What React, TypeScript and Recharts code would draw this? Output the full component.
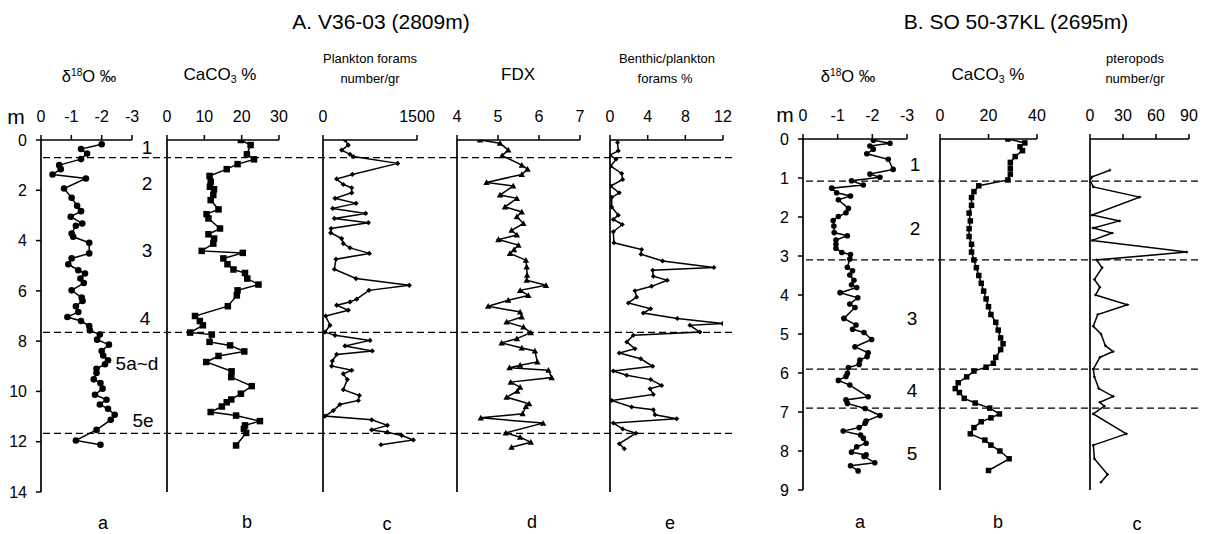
import React from 'react';
import { ScatterChart, Scatter, XAxis, YAxis } from 'recharts';

// ---------- Core A: V36-03 ----------
const aO18Depth = [0.17,0.36,0.54,0.76,1.0,1.16,1.37,1.53,1.93,2.30,2.62,2.83,3.05,3.32,3.41,3.72,3.85,4.09,4.51,4.71,4.94,5.18,5.31,5.51,5.69,5.98,6.27,6.40,6.61,6.84,7.04,7.2,7.4,7.57,7.74,7.94,8.14,8.39,8.57,8.76,8.92,9.1,9.27,9.52,9.67,9.89,10.13,10.33,10.52,10.69,10.93,11.13,11.53,11.95,12.12];
const aO18Value = [-2.0,-1.32,-1.52,-1.32,-0.60,-0.65,-0.38,-1.48,-0.76,-1.01,-1.19,-1.32,-0.98,-1.36,-1.15,-1.01,-1.06,-1.59,-1.59,-1.01,-0.90,-1.23,-1.45,-1.30,-1.41,-1.01,-1.34,-1.37,-1.15,-1.23,-0.87,-1.32,-1.59,-1.61,-1.94,-1.85,-2.24,-2.0,-2.05,-2.21,-2.11,-1.83,-1.83,-1.74,-1.96,-2.03,-1.78,-2.16,-1.94,-2.21,-2.43,-2.30,-1.83,-1.15,-1.96];

const aCaDepth = [0.0,0.2,0.57,0.77,0.96,1.16,1.43,1.66,1.86,1.96,2.19,2.39,2.76,2.95,3.12,3.52,3.75,3.92,4.12,4.41,4.49,4.71,4.94,5.15,5.29,5.51,5.75,5.98,6.18,6.61,7.0,7.2,7.37,7.66,7.74,8.03,8.17,8.41,8.59,8.83,9.2,9.43,9.79,10.09,10.32,10.43,10.6,10.82,10.96,11.18,11.35,11.49,11.65,12.15];
const aCaValue = [19.8,22.4,21.4,23.3,18.9,16.0,11.4,11.7,11.5,12.6,12.4,11.7,13.8,10.6,11.1,14.2,11.1,12.6,12.4,9.3,20.3,15.1,16.2,17.8,20.9,21.5,24.5,18.9,18.7,16.3,7.5,8.8,9.6,6.2,12.0,11.4,16.9,20.7,13.8,10.5,17.3,17.2,22.7,19.8,17.2,16.0,14.7,11.7,18.5,24.9,20.9,20.6,21.2,18.5];

const aPlDepth = [0,0.2,0.4,0.57,0.66,0.93,1.37,1.55,1.77,1.9,2.1,2.32,2.52,2.72,2.92,3.12,3.29,3.52,3.69,3.92,4.12,4.29,4.51,4.74,5.14,5.51,5.78,5.98,6.33,6.44,6.57,6.77,7.0,7.37,7.64,7.77,7.97,8.19,8.39,8.53,8.79,8.99,9.16,9.3,9.53,9.93,10.16,10.36,10.52,10.76,10.98,11.13,11.35,11.53,11.62,11.75,11.93,12.12];
const aPlValue = [351,404,298,431,484,1192,468,218,324,458,458,192,527,154,681,181,724,128,122,298,324,431,739,207,181,527,1377,734,537,431,218,404,43,112,32,192,750,351,787,218,149,138,458,324,388,324,580,564,271,165,32,777,1027,777,1027,1256,1441,926];

const aFdxDepth = [0,0.13,0.4,0.62,1.0,1.16,1.37,1.69,1.83,2.19,2.32,2.66,2.86,3.05,3.32,3.59,3.78,3.96,4.18,4.36,4.51,4.78,5.05,5.38,5.58,5.78,5.98,6.18,6.37,6.61,6.84,7.04,7.24,7.44,7.66,7.9,8.07,8.27,8.39,8.83,8.96,9.06,9.16,9.45,9.63,9.83,9.99,10.23,10.49,10.6,10.89,11.05,11.26,11.65,11.82,12.02,12.22];
const aFdxValue = [4.56,5.05,5.25,5.10,5.58,5.72,5.58,4.72,5.37,5.05,5.46,5.17,5.58,5.46,5.62,5.33,5.46,5.01,5.50,5.39,5.29,5.68,5.70,5.71,5.70,6.17,5.54,5.74,5.25,4.76,5.54,5.58,5.21,5.62,5.80,5.46,5.09,5.58,5.90,5.96,5.54,5.28,6.23,6.31,5.31,5.54,5.47,5.21,5.76,5.68,5.60,4.58,6.10,5.19,5.54,5.80,5.33];

const aBenDepth = [0.1,0.43,0.6,0.77,1.04,1.33,1.57,1.83,2.1,2.28,2.66,2.99,3.16,3.36,3.65,4.09,4.36,4.54,4.81,5.07,5.18,5.42,5.58,5.82,6.0,6.24,6.48,6.71,6.88,7.1,7.3,7.37,7.64,7.77,8.03,8.3,8.47,8.7,9.0,9.19,9.36,9.53,9.76,9.89,10.12,10.36,10.62,10.73,10.93,11.09,11.26,11.49,11.66,12.08,12.28];
const aBenValue = [0.8,0.88,0,0.64,0.07,1.24,1.34,0.07,0.99,0.18,0.18,0.88,0.35,1.31,0.35,0.42,3.36,3.29,5.59,11.04,4.53,4.60,6.08,4.42,2.65,2.83,1.95,4.32,3.54,7.15,11.96,8.49,9.55,2.48,1.77,2.65,0.99,3.26,4.53,0.35,1.77,4.32,5.49,4.25,4.60,0.18,2.3,4.60,4.78,7.08,0.35,1.35,2.76,0.99,1.52];

const aBoundaries = [0.7, 7.65, 11.67];

// ---------- Core B: SO 50-37KL ----------
const bO18Depth = [0.03,0.11,0.18,0.26,0.38,0.52,0.78,0.90,0.98,1.07,1.18,1.26,1.38,1.46,1.56,1.78,1.89,1.99,2.09,2.23,2.40,2.48,2.59,2.70,2.80,2.91,2.96,3.08,3.29,3.38,3.49,3.62,3.74,3.81,3.94,4.07,4.23,4.32,4.6,4.77,4.88,4.96,5.14,5.33,5.48,5.58,5.67,5.78,5.86,6.01,6.09,6.19,6.31,6.61,6.69,6.78,6.91,7.09,7.23,7.29,7.40,7.49,7.59,7.67,7.80,7.89,8.03,8.10,8.14,8.30,8.38,8.51];
const bO18Value = [-2.03,-2.51,-1.93,-2.03,-1.84,-2.46,-2.60,-1.93,-2.22,-1.40,-1.74,-0.83,-0.97,-1.37,-1.02,-1.31,-1.24,-1.02,-0.87,-0.89,-0.90,-1.28,-0.95,-0.95,-0.95,-1.12,-1.37,-1.35,-1.28,-1.43,-1.35,-1.47,-1.40,-1.55,-1.07,-1.58,-1.35,-1.50,-1.18,-1.53,-1.43,-1.76,-1.98,-1.50,-1.88,-1.85,-1.64,-1.62,-1.31,-1.28,-1.24,-1.02,-1.35,-1.88,-1.24,-1.28,-1.79,-2.22,-1.82,-1.79,-1.62,-1.16,-1.66,-1.74,-1.82,-1.55,-1.40,-1.82,-1.76,-2.07,-1.37,-1.59];

const bCaDepth = [0.0,0.1,0.2,0.3,0.45,0.6,0.75,0.9,1.05,1.2,1.35,1.5,1.7,1.9,2.1,2.3,2.5,2.7,2.9,3.1,3.3,3.5,3.7,3.9,4.1,4.3,4.5,4.7,4.9,5.1,5.25,5.4,5.6,5.75,5.85,5.95,6.1,6.25,6.4,6.5,6.65,6.77,6.9,7.05,7.15,7.25,7.4,7.56,7.72,7.85,8.0,8.2,8.5];
const bCaValue = [28,35,33,34,31,29,29,29,28,16,14,13,13,12,12.5,12,12,13,13,14,15,16,17,18,19,20,21,23,24,25,26,25,23,22,19,14,11,7.5,6.3,8,10,14.5,20.5,24.5,21,17,14,12.5,18.5,21,24.7,28.5,20];

const bPtDepth = [0.8,0.97,1.05,1.23,1.49,1.95,2.1,2.28,2.41,2.6,2.9,3.1,3.3,3.6,3.8,4.0,4.25,4.5,4.8,5.0,5.3,5.45,5.6,5.9,6.1,6.4,6.6,6.75,6.85,7.05,7.56,7.85,8.2,8.6,8.8];
const bPtValue = [18,2,0,3,45,2,27,3,20,2,88,6,11,4,9,5,34,7,3,10,14,21,9,3,4,8,21,9,13,3,33,3,4,16,10];

const bBoundaries = [1.08, 3.1, 5.9, 6.9];

// ---------- axis ticks ----------
const o18Ticks = [0, -1, -2, -3];
const aCaTicks = [0, 10, 20, 30];
const aPlTicks = [0, 1500];
const aFdxTicks = [4, 5, 6, 7];
const aBenTicks = [0, 4, 8, 12];
const bCaTicks = [0, 20, 40];
const bPtTicks = [0, 30, 60, 90];
const aDepthTicks = [0, 2, 4, 6, 8, 10, 12, 14];
const bDepthTicks = [0, 1, 2, 3, 4, 5, 6, 7, 8, 9];

const FONT = '"Liberation Sans", Arial, sans-serif';

const circle = (r: number) => (p: any) => <circle cx={p.cx} cy={p.cy} r={r} fill="#000" />;
const square = (s: number) => (p: any) => <rect x={p.cx - s / 2} y={p.cy - s / 2} width={s} height={s} fill="#000" />;
const diamond = (s: number) => (p: any) => (
  <polygon points={`${p.cx},${p.cy - s} ${p.cx + s},${p.cy} ${p.cx},${p.cy + s} ${p.cx - s},${p.cy}`} fill="#000" />
);
const triangle = (s: number) => (p: any) => (
  <polygon points={`${p.cx},${p.cy - s} ${p.cx + s},${p.cy + s * 0.8} ${p.cx - s},${p.cy + s * 0.8}`} fill="#000" />
);
const noMarker = () => <g />;

type PanelProps = {
  L: number; R: number; T: number; B: number;
  depths: number[]; values: number[];
  xDomain: [number, number]; xTicks: number[]; reversedX?: boolean;
  yDomain: [number, number]; yTicks: number[]; yLabels: boolean;
  marker: (p: any) => any;
};

function Panel(p: PanelProps) {
  const ML = 45, MT = 45, MR = 30, MB = 12;
  const width = p.R - p.L + ML + MR;
  const height = p.B - p.T + MT + MB;
  const data = p.depths.map((d, i) => ({ d, v: p.values[i] }));
  const xTickStyle = { fill: '#000', fontSize: 16, fontFamily: FONT };
  const yTickStyle = { fill: '#000', fontSize: 16, fontFamily: FONT };
  return (
    <div style={{ position: 'absolute', left: p.L - ML, top: p.T - MT }}>
      <ScatterChart width={width} height={height} margin={{ top: 0, left: 0, right: MR, bottom: MB }}>
        <XAxis
          type="number" dataKey="v" orientation="top" domain={p.xDomain} ticks={p.xTicks}
          reversed={p.reversedX} height={MT} interval={0} allowDataOverflow
          tickSize={5} tickMargin={13} tick={xTickStyle}
          axisLine={{ stroke: '#000', strokeWidth: 1.7 }} tickLine={{ stroke: '#000', strokeWidth: 1.5 }}
        />
        <YAxis
          type="number" dataKey="d" domain={p.yDomain} ticks={p.yTicks} reversed width={ML}
          interval={0} allowDataOverflow tickSize={5} tickMargin={9}
          tick={p.yLabels ? yTickStyle : false}
          axisLine={{ stroke: '#000', strokeWidth: 1.7 }} tickLine={{ stroke: '#000', strokeWidth: 1.5 }}
        />
        <Scatter data={data} line={{ stroke: '#000', strokeWidth: 1.5 }} shape={p.marker} isAnimationActive={false} />
      </ScatterChart>
    </div>
  );
}

function Dashes(p: { L: number; R: number; T: number; B: number; yDomain: [number, number]; depths: number[] }) {
  return (
    <div style={{ position: 'absolute', left: p.L, top: p.T, pointerEvents: 'none' }}>
      <ScatterChart width={p.R - p.L} height={p.B - p.T} margin={{ top: 0, right: 0, bottom: 0, left: 0 }}>
        <XAxis type="number" dataKey="x" domain={[0, 1]} hide />
        <YAxis type="number" dataKey="d" domain={p.yDomain} reversed hide />
        {p.depths.map((d) => (
          <Scatter
            key={d}
            data={[{ x: 0, d }, { x: 1, d }]}
            line={{ stroke: '#000', strokeWidth: 1.3, strokeDasharray: '7 4' }}
            shape={noMarker}
            isAnimationActive={false}
          />
        ))}
      </ScatterChart>
    </div>
  );
}

const Txt = (p: { x: number; y: number; size: number; children: any }) => (
  <div style={{ position: 'absolute', left: p.x, top: p.y, transform: 'translate(-50%, -50%)', fontSize: p.size, whiteSpace: 'nowrap', lineHeight: 1, textAlign: 'center' }}>
    {p.children}
  </div>
);

const O18 = () => (<span>δ<sup style={{ fontSize: '0.62em', verticalAlign: '0.55em' }}>18</sup>O ‰</span>);
const CaCO3 = () => (<span>CaCO<sub style={{ fontSize: '0.62em', verticalAlign: '-0.25em' }}>3</sub> %</span>);

export default function App() {
  const AT = 140, AB = 492, BT = 139, BB = 490;
  return (
    <div style={{ position: 'absolute', left: 0, top: 0, width: 1223, height: 534, background: '#fff', fontFamily: FONT, color: '#000', overflow: 'hidden' }}>
      <Txt x={381} y={21} size={21}>A. V36-03 (2809m)</Txt>
      <Txt x={1016} y={21} size={21}>B. SO 50-37KL (2695m)</Txt>

      <Txt x={89} y={76} size={16.5}><O18 /></Txt>
      <Txt x={220} y={75} size={17}><CaCO3 /></Txt>
      <Txt x={370} y={58} size={13}>Plankton forams</Txt>
      <Txt x={370} y={78} size={13}>number/gr</Txt>
      <Txt x={518} y={74} size={17}>FDX</Txt>
      <Txt x={667} y={58} size={13}>Benthic/plankton</Txt>
      <Txt x={665} y={78} size={13}>forams %</Txt>
      <Txt x={848} y={76} size={16.5}><O18 /></Txt>
      <Txt x={988} y={75} size={17}><CaCO3 /></Txt>
      <Txt x={1135} y={58} size={13}>pteropods</Txt>
      <Txt x={1135} y={78} size={13}>number/gr</Txt>

      <Txt x={16} y={116} size={21}>m</Txt>
      <Txt x={785} y={114} size={21}>m</Txt>

      <Panel L={41} R={132} T={AT} B={AB} depths={aO18Depth} values={aO18Value} xDomain={[-3, 0]} xTicks={o18Ticks} reversedX yDomain={[0, 14]} yTicks={aDepthTicks} yLabels marker={circle(3.3)} />
      <Panel L={167} R={279} T={AT} B={AB} depths={aCaDepth} values={aCaValue} xDomain={[0, 30]} xTicks={aCaTicks} yDomain={[0, 14]} yTicks={aDepthTicks} yLabels={false} marker={square(6.5)} />
      <Panel L={323} R={417} T={AT} B={AB} depths={aPlDepth} values={aPlValue} xDomain={[0, 1500]} xTicks={aPlTicks} yDomain={[0, 14]} yTicks={aDepthTicks} yLabels={false} marker={diamond(2.6)} />
      <Panel L={457} R={580} T={AT} B={AB} depths={aFdxDepth} values={aFdxValue} xDomain={[4, 7]} xTicks={aFdxTicks} yDomain={[0, 14]} yTicks={aDepthTicks} yLabels={false} marker={triangle(3.2)} />
      <Panel L={610} R={723} T={AT} B={AB} depths={aBenDepth} values={aBenValue} xDomain={[0, 12]} xTicks={aBenTicks} yDomain={[0, 14]} yTicks={aDepthTicks} yLabels={false} marker={diamond(2.5)} />

      <Panel L={803} R={907} T={BT} B={BB} depths={bO18Depth} values={bO18Value} xDomain={[-3, 0]} xTicks={o18Ticks} reversedX yDomain={[0, 9]} yTicks={bDepthTicks} yLabels marker={circle(2.8)} />
      <Panel L={940} R={1037} T={BT} B={BB} depths={bCaDepth} values={bCaValue} xDomain={[0, 40]} xTicks={bCaTicks} yDomain={[0, 9]} yTicks={bDepthTicks} yLabels={false} marker={square(5.5)} />
      <Panel L={1090} R={1189} T={BT} B={BB} depths={bPtDepth} values={bPtValue} xDomain={[0, 90]} xTicks={bPtTicks} yDomain={[0, 9]} yTicks={bDepthTicks} yLabels={false} marker={diamond(1.6)} />

      <Dashes L={43} R={736} T={AT} B={AB} yDomain={[0, 14]} depths={aBoundaries} />
      <Dashes L={806} R={1200} T={BT} B={BB} yDomain={[0, 9]} depths={bBoundaries} />

      <Txt x={147} y={147} size={19}>1</Txt>
      <Txt x={147} y={183} size={19}>2</Txt>
      <Txt x={147} y={250} size={19}>3</Txt>
      <Txt x={145} y={318} size={19}>4</Txt>
      <Txt x={137} y={363} size={19}>5a~d</Txt>
      <Txt x={143} y={420} size={19}>5e</Txt>
      <Txt x={915} y={164} size={19}>1</Txt>
      <Txt x={915} y={228} size={19}>2</Txt>
      <Txt x={912} y={318} size={19}>3</Txt>
      <Txt x={912} y={390} size={19}>4</Txt>
      <Txt x={912} y={453} size={19}>5</Txt>

      <Txt x={103} y={523} size={18}>a</Txt>
      <Txt x={247} y={522} size={18}>b</Txt>
      <Txt x={387} y={524} size={18}>c</Txt>
      <Txt x={532} y={522} size={18}>d</Txt>
      <Txt x={670} y={523} size={18}>e</Txt>
      <Txt x={860} y={522} size={18}>a</Txt>
      <Txt x={998} y={522} size={18}>b</Txt>
      <Txt x={1137} y={524} size={18}>c</Txt>
    </div>
  );
}
